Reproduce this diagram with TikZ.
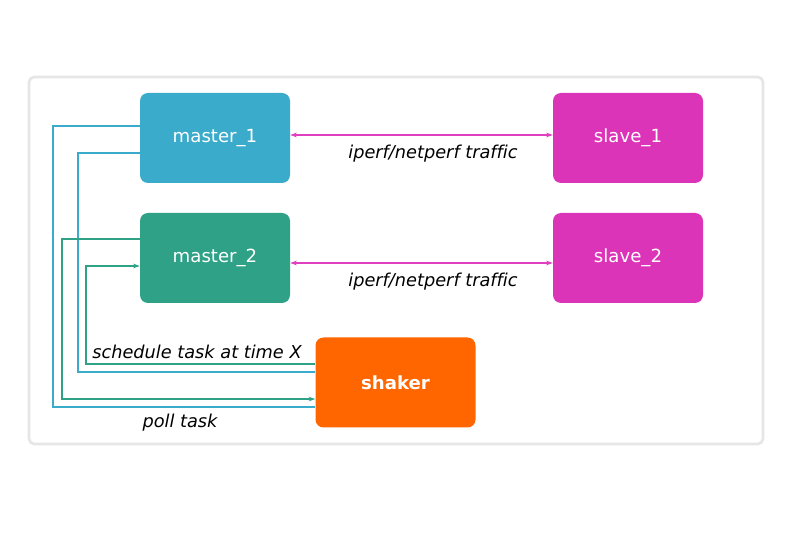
\documentclass[tikz,border=0pt]{standalone}
\usepackage{fontspec}
\setmainfont{DejaVu Sans}[Ligatures={NoCommon}]
\usetikzlibrary{arrows.meta}
\definecolor{cblue}{HTML}{3AABCA}
\definecolor{cgreen}{HTML}{2EA187}
\definecolor{cmag}{HTML}{DC34B9}
\definecolor{cmagl}{HTML}{E040C0}
\definecolor{corange}{HTML}{FF6600}
\definecolor{cframe}{HTML}{E6E6E6}
\tikzset{
  box/.style={rounded corners=6pt, minimum width=112.5pt, minimum height=67.5pt, inner sep=0pt, text=white, font=\fontsize{13.6pt}{16pt}\selectfont},
  lbl/.style={font=\fontsize{13.3pt}{16pt}\selectfont\itshape, inner sep=0pt},
  traffic/.style={cmagl, line width=1.1pt, {Stealth[length=5pt,width=3.5pt]}-{Stealth[length=5pt,width=3.5pt]}},
  bline/.style={cblue, line width=1.3pt},
  gline/.style={cgreen, line width=1.3pt, -{Stealth[length=5pt,width=3.5pt]}}
}
\begin{document}
\begin{tikzpicture}[x=0.75pt,y=-0.75pt]
\useasboundingbox (0,0) rectangle (793,559);
\draw[cframe, line width=2pt, rounded corners=4pt] (29,77) rectangle (763,444);
\node[box, fill=cblue] (m1) at (215,138) {master\_1};
\node[box, fill=cmag] (s1) at (628,138) {slave\_1};
\node[box, fill=cgreen] (m2) at (215,258) {master\_2};
\node[box, fill=cmag] (s2) at (628,258) {slave\_2};
\node[box, fill=corange, minimum width=120pt, font=\fontsize{13.6pt}{16pt}\selectfont\bfseries] (sh) at (395.5,382.5) {shaker};
\draw[traffic] ([yshift=2.25pt]m1.east) -- ([yshift=2.25pt]s1.east -| s1.west);
\draw[traffic] ([yshift=-3.75pt]m2.east) -- ([yshift=-3.75pt]s2.east -| s2.west);
\node[lbl] (t1) at (433,153.5) {iperf/netperf traffic};
\node[lbl] (t2) at (433,281.5) {iperf/netperf traffic};
\draw[bline] ([yshift=9pt]m1.west) -- ++(-87,0) |- ([yshift=-18.4pt]sh.west);
\draw[bline] ([yshift=-11.25pt]m1.west) -- ++(-62,0) |- ([yshift=7.9pt]sh.west);
\draw[gline] ([yshift=14.25pt]m2.west) -- ++(-78,0) |- ([yshift=-12.4pt]sh.west);
\draw[gline] ([yshift=13.9pt]sh.west) -- ++(-229.5,0) |- ([yshift=-6pt]m2.west);
\node[lbl] (l1) at (197,351.5) {schedule task at time X};
\node[lbl] (l2) at (180,422.5) {poll task};
\end{tikzpicture}
\end{document}
